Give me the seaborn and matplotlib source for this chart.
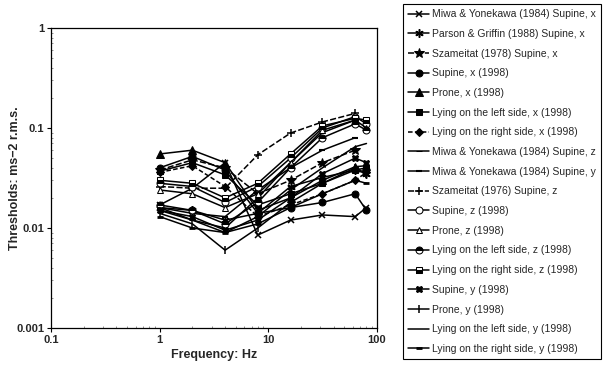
import matplotlib
matplotlib.use("Agg")
import matplotlib.pyplot as plt
import seaborn as sns
import pandas as pd
from matplotlib.ticker import FixedLocator, FixedFormatter, LogLocator, NullFormatter

# ---------------- data ----------------
freq_1998 = [1, 2, 4, 8, 16, 31.5, 63, 80]
freq_old = [1, 2, 4, 8, 16, 31.5, 63]

labels = [
    "Miwa & Yonekawa (1984) Supine, x",
    "Parson & Griffin (1988) Supine, x",
    "Szameitat (1978) Supine, x",
    "Supine, x (1998)",
    "Prone, x (1998)",
    "Lying on the left side, x (1998)",
    "Lying on the right side, x (1998)",
    "Miwa & Yonekawa (1984) Supine, z",
    "Miwa & Yonekawa (1984) Supine, y",
    "Szameitat (1976) Supine, z",
    "Supine, z (1998)",
    "Prone, z (1998)",
    "Lying on the left side, z (1998)",
    "Lying on the right side, z (1998)",
    "Supine, y (1998)",
    "Prone, y (1998)",
    "Lying on the left side, y (1998)",
    "Lying on the right side, y (1998)",
]

miwa_x = [0.017, 0.025, 0.045, 0.0085, 0.012, 0.0135, 0.013, 0.016]
parson_x = [0.016, 0.015, 0.012, 0.014, 0.026, 0.032, 0.038, 0.035]
szam78_x = [0.038, 0.048, 0.040, 0.022, 0.030, 0.045, 0.060]
supine_x = [0.040, 0.052, 0.038, 0.014, 0.016, 0.018, 0.022, 0.015]
prone_x = [0.055, 0.060, 0.045, 0.015, 0.020, 0.030, 0.041, 0.042]
left_x = [0.037, 0.045, 0.034, 0.017, 0.022, 0.028, 0.038, 0.040]
right_x = [0.036, 0.042, 0.026, 0.013, 0.017, 0.022, 0.030, 0.036]
miwa_z = [0.015, 0.012, 0.010, 0.020, 0.045, 0.090, 0.120]
miwa_y = [0.016, 0.014, 0.013, 0.024, 0.040, 0.060, 0.080]
szam76_z = [0.026, 0.025, 0.025, 0.054, 0.089, 0.115, 0.140]
supine_z = [0.028, 0.026, 0.018, 0.026, 0.050, 0.100, 0.130, 0.110]
prone_z = [0.024, 0.022, 0.016, 0.022, 0.045, 0.095, 0.120, 0.100]
left_z = [0.017, 0.015, 0.011, 0.018, 0.040, 0.080, 0.110, 0.095]
right_z = [0.030, 0.028, 0.020, 0.028, 0.055, 0.105, 0.125, 0.120]
supine_y = [0.015, 0.013, 0.0095, 0.012, 0.020, 0.035, 0.050, 0.045]
prone_y = [0.014, 0.011, 0.006, 0.010, 0.018, 0.028, 0.040, 0.035]
left_y = [0.016, 0.012, 0.009, 0.013, 0.024, 0.040, 0.065, 0.070]
right_y = [0.013, 0.010, 0.009, 0.011, 0.016, 0.022, 0.030, 0.028]

series_values = [miwa_x, parson_x, szam78_x, supine_x, prone_x, left_x, right_x,
                 miwa_z, miwa_y, szam76_z, supine_z, prone_z, left_z, right_z,
                 supine_y, prone_y, left_y, right_y]

x_ticks = [0.1, 1, 10, 100]
x_tick_labels = ["0.1", "1", "10", "100"]
y_ticks = [0.001, 0.01, 0.1, 1]
y_tick_labels = ["0.001", "0.01", "0.1", "1"]

# ---------------- styles ----------------
styles = [
    dict(marker="x", ms=5, mew=1.1),
    dict(marker=(6, 2, 0), ms=6, mew=1.1),
    dict(marker="*", ms=7, ls=(0, (4, 1.5))),
    dict(marker="o", ms=5),
    dict(marker="^", ms=5.5),
    dict(marker="s", ms=5),
    dict(marker="D", ms=4.5, ls=(0, (3, 1.5))),
    dict(marker="_", ms=4),
    dict(marker="_", ms=5, mew=1.5),
    dict(marker="+", ms=6, mew=1.1, ls=(0, (4, 1.5))),
    dict(marker="o", ms=5, mfc="white"),
    dict(marker="^", ms=5, mfc="white"),
    dict(marker="o", ms=5, fillstyle="top", mfcalt="white"),
    dict(marker="s", ms=5, fillstyle="bottom", mfcalt="white"),
    dict(marker="X", ms=5),
    dict(marker="|", ms=6, mew=1.1),
    dict(marker=None),
    dict(marker="_", ms=5, mew=2),
]

sns.set_style("ticks")
plt.rcParams["font.family"] = ["Liberation Sans", "DejaVu Sans"]

fig = plt.figure(figsize=(6.05, 3.68), dpi=100)
ax = fig.add_axes([51 / 605, 1 - 328 / 368, (377 - 51) / 605, (328 - 28) / 368])

for lab, vals, st in zip(labels, series_values, styles):
    fr = freq_1998 if len(vals) == len(freq_1998) else freq_old
    df = pd.DataFrame({"Frequency": fr, "Threshold": vals})
    st = dict(st)
    kw = dict(color="black", lw=1.1, mec="black", label=lab)
    if "mfc" not in st and "fillstyle" not in st:
        kw["mfc"] = "black"
    kw.update(st)
    sns.lineplot(data=df, x="Frequency", y="Threshold", ax=ax, sort=False,
                 estimator=None, **kw)

ax.set_xscale("log")
ax.set_yscale("log")
ax.set_xlim(0.1, 100)
ax.set_ylim(0.001, 1)

ax.xaxis.set_major_locator(FixedLocator(x_ticks))
ax.xaxis.set_major_formatter(FixedFormatter(x_tick_labels))
ax.yaxis.set_major_locator(FixedLocator(y_ticks))
ax.yaxis.set_major_formatter(FixedFormatter(y_tick_labels))
ax.xaxis.set_minor_locator(LogLocator(base=10, subs=range(2, 10)))
ax.yaxis.set_minor_locator(LogLocator(base=10, subs=range(2, 10)))
ax.xaxis.set_minor_formatter(NullFormatter())
ax.yaxis.set_minor_formatter(NullFormatter())
ax.tick_params(which="major", direction="out", length=3, width=0.8, labelsize=8, pad=2, color="black")
ax.tick_params(which="minor", direction="in", length=1.5, width=0.5, color="#666666")
for t in ax.get_xticklabels() + ax.get_yticklabels():
    t.set_fontweight("bold")

for sp in ax.spines.values():
    sp.set_visible(True)
    sp.set_linewidth(0.9)
    sp.set_color("black")

ax.set_xlabel("Frequency: Hz", fontsize=9, fontweight="bold", labelpad=3)
ax.set_ylabel("Thresholds: ms\u22122 r.m.s.", fontsize=9, fontweight="bold")
ax.yaxis.set_label_coords((21 - 51) / 326, 0.5)

handles, labs = ax.get_legend_handles_labels()
if ax.get_legend() is not None:
    ax.get_legend().remove()
leg = fig.legend(handles, labs, loc="upper left", bbox_to_anchor=(403 / 605, 1 - 4 / 368),
                 bbox_transform=fig.transFigure, frameon=True, fancybox=False,
                 edgecolor="black", framealpha=1, fontsize=7.5, handlelength=2.0,
                 handletextpad=0.3, labelspacing=0.93, borderpad=0.5, borderaxespad=0)
leg.get_frame().set_linewidth(0.8)

fig.savefig("out.png", dpi=100)
